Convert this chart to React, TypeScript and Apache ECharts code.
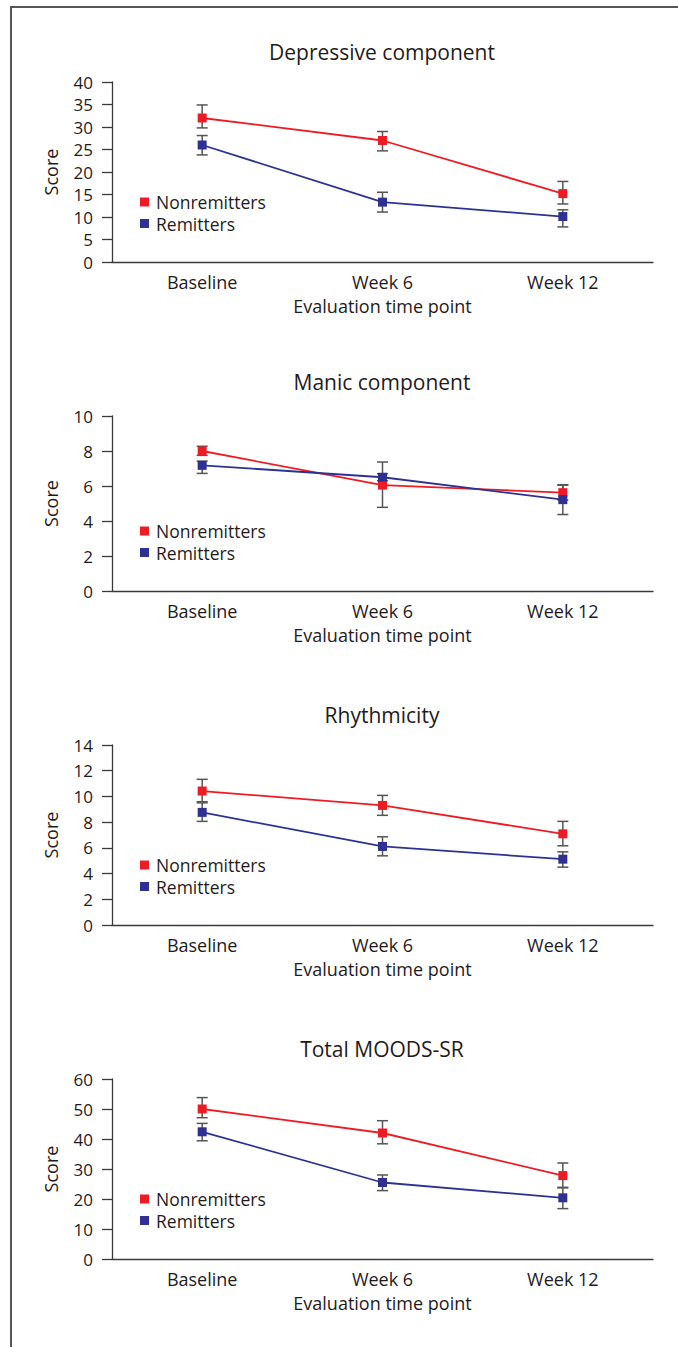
import React, { useEffect, useRef } from "react";
import * as echarts from "echarts";

const categories = ["Baseline", "Week 6", "Week 12"];
const panelTitles = ["Depressive component", "Manic component", "Rhythmicity", "Total MOODS-SR"];
const yMax = [40, 10, 14, 60];
const yInterval = [5, 2, 2, 10];

// Depressive component
const depNonMean = [32, 27, 15.2];
const depNonLow = [29.8, 24.7, 12.9];
const depNonHigh = [34.9, 29.0, 17.9];
const depRemMean = [26, 13.3, 10.1];
const depRemLow = [23.8, 11.1, 7.8];
const depRemHigh = [28.1, 15.5, 11.6];

// Manic component
const manNonMean = [8.0, 6.05, 5.62];
const manNonLow = [7.75, 4.78, 5.2];
const manNonHigh = [8.27, 7.37, 6.05];
const manRemMean = [7.18, 6.5, 5.22];
const manRemLow = [6.72, 6.3, 4.37];
const manRemHigh = [7.42, 6.7, 6.07];

// Rhythmicity
const rhyNonMean = [10.42, 9.3, 7.09];
const rhyNonLow = [9.59, 8.53, 6.16];
const rhyNonHigh = [11.33, 10.08, 8.06];
const rhyRemMean = [8.76, 6.11, 5.12];
const rhyRemLow = [8.06, 5.38, 4.5];
const rhyRemHigh = [9.5, 6.86, 5.69];

// Total MOODS-SR
const totNonMean = [50, 42, 27.8];
const totNonLow = [47.1, 38.4, 23.9];
const totNonHigh = [53.8, 46.1, 32];
const totRemMean = [42.4, 25.5, 20.4];
const totRemLow = [39.4, 22.8, 16.8];
const totRemHigh = [45.2, 28.0, 23.7];

const panels = [
  { non: [depNonMean, depNonLow, depNonHigh], rem: [depRemMean, depRemLow, depRemHigh] },
  { non: [manNonMean, manNonLow, manNonHigh], rem: [manRemMean, manRemLow, manRemHigh] },
  { non: [rhyNonMean, rhyNonLow, rhyNonHigh], rem: [rhyRemMean, rhyRemLow, rhyRemHigh] },
  { non: [totNonMean, totNonLow, totNonHigh], rem: [totRemMean, totRemLow, totRemHigh] },
];

const FONT = "Open Sans";
const TEXT = "#1f1b1c";
const AXIS = "#3a3a3a";
const RED = "#ed1c24";
const BLUE = "#2e3192";
const ERR = "#555555";

const gridTops = [82, 416, 745, 1079];
const gridHeights = [180, 175, 180, 180];
const titleCenters = [52, 382, 715, 1049];
const GRID_LEFT = 112;
const GRID_RIGHT = 25;

function errorRender(params: any, api: any) {
  const x = api.value(0);
  const lo = api.coord([x, api.value(1)]);
  const hi = api.coord([x, api.value(2)]);
  const w = 5.5;
  const style = { stroke: ERR, lineWidth: 1.5 };
  return {
    type: "group",
    children: [
      { type: "line", shape: { x1: lo[0], y1: lo[1], x2: hi[0], y2: hi[1] }, style },
      { type: "line", shape: { x1: lo[0] - w, y1: lo[1], x2: lo[0] + w, y2: lo[1] }, style },
      { type: "line", shape: { x1: hi[0] - w, y1: hi[1], x2: hi[0] + w, y2: hi[1] }, style },
    ],
  };
}

export default function App() {
  const ref = useRef<HTMLDivElement>(null);
  useEffect(() => {
    if (!ref.current) return;
    const chart = echarts.init(ref.current, undefined, { renderer: "svg" });
    const grid: any[] = [];
    const xAxis: any[] = [];
    const yAxis: any[] = [];
    const series: any[] = [];
    const title: any[] = [];
    const legend: any[] = [];
    panels.forEach((p, i) => {
      grid.push({ left: GRID_LEFT, right: GRID_RIGHT, top: gridTops[i], height: gridHeights[i] });
      xAxis.push({
        type: "category",
        gridIndex: i,
        data: categories,
        boundaryGap: true,
        name: "Evaluation time point",
        nameLocation: "middle",
        nameGap: 35,
        nameTextStyle: { fontFamily: FONT, fontSize: 18, color: TEXT },
        axisLine: { lineStyle: { color: AXIS, width: 1.3 } },
        axisTick: { length: 10, lineStyle: { color: AXIS, width: 1.3 } },
        axisLabel: { fontFamily: FONT, fontSize: 18, color: TEXT, margin: 11 },
        splitLine: { show: false },
      });
      yAxis.push({
        type: "value",
        gridIndex: i,
        min: 0,
        max: yMax[i],
        interval: yInterval[i],
        name: "Score",
        nameLocation: "middle",
        nameGap: 52,
        nameTextStyle: { fontFamily: FONT, fontSize: 18, color: TEXT },
        axisLine: { show: true, lineStyle: { color: AXIS, width: 1.3 } },
        axisTick: { show: true, length: 10, lineStyle: { color: AXIS, width: 1.3 } },
        axisLabel: { fontFamily: FONT, fontSize: 17, color: TEXT, margin: 19 },
        splitLine: { show: false },
      });
      title.push({
        text: panelTitles[i],
        left: 382,
        top: titleCenters[i] - 13,
        textAlign: "center",
        padding: 0,
        textStyle: { fontFamily: FONT, fontSize: 21, fontWeight: "normal", color: TEXT, lineHeight: 26 },
      });
      const axisY = gridTops[i] + gridHeights[i];
      legend.push({
        data: ["Nonremitters", "Remitters"],
        orient: "vertical",
        left: 140,
        top: axisY - 69,
        padding: 0,
        itemGap: 3.5,
        itemWidth: 9,
        itemHeight: 9,
        icon: "rect",
        selectedMode: false,
        textStyle: { fontFamily: FONT, fontSize: 17.5, color: TEXT, lineHeight: 17.5, padding: [0, 0, 0, 2] },
      });
      const groups: [string, number[][], string][] = [
        ["Nonremitters", p.non, RED],
        ["Remitters", p.rem, BLUE],
      ];
      groups.forEach(([name, arr]) => {
        series.push({
          type: "custom",
          name: name + " SEM",
          xAxisIndex: i,
          yAxisIndex: i,
          z: 2,
          renderItem: errorRender,
          encode: { x: 0, y: [1, 2] },
          data: categories.map((_, k) => [k, arr[1][k], arr[2][k]]),
        });
      });
      groups.forEach(([name, arr, color]) => {
        series.push({
          type: "line",
          name,
          xAxisIndex: i,
          yAxisIndex: i,
          z: 3,
          data: arr[0],
          symbol: "rect",
          symbolSize: 9,
          itemStyle: { color },
          lineStyle: { color, width: 1.8 },
          color,
        });
      });
    });
    chart.setOption({
      animation: false,
      backgroundColor: "#ffffff",
      title,
      legend,
      grid,
      xAxis,
      yAxis,
      series,
      graphic: [
        { type: "line", shape: { x1: 10, y1: 7, x2: 678, y2: 7 }, style: { stroke: "#555", lineWidth: 2 } },
        { type: "line", shape: { x1: 11, y1: 6, x2: 11, y2: 1347 }, style: { stroke: "#555", lineWidth: 2 } },
      ],
    });
    return () => chart.dispose();
  }, []);
  return <div ref={ref} style={{ position: "absolute", left: 0, top: 0, width: 678, height: 1347 }} />;
}
